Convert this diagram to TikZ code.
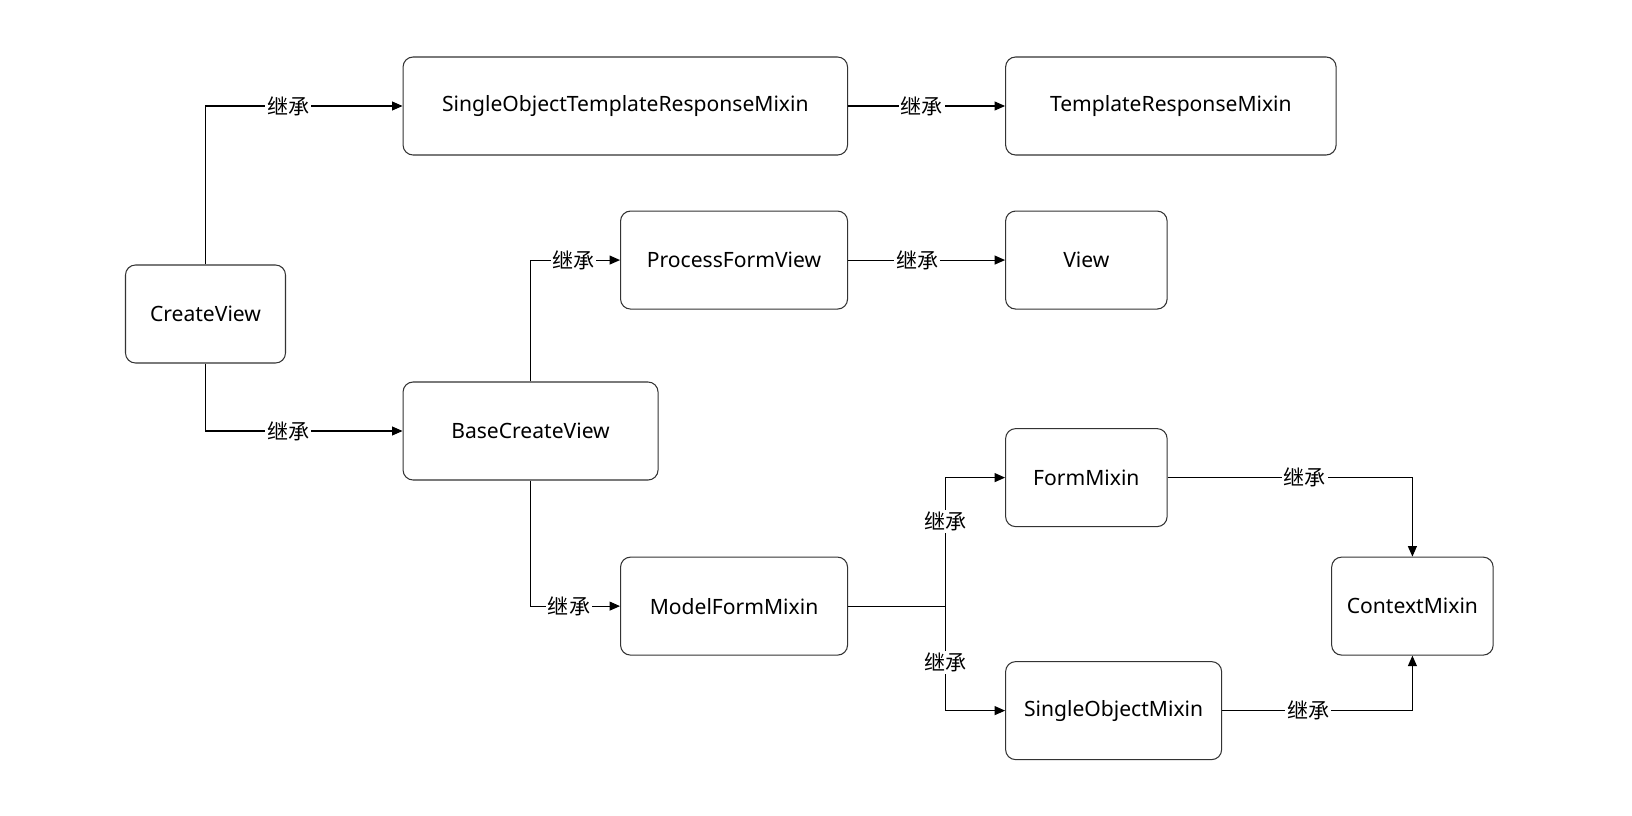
\documentclass[tikz,border=0pt]{standalone}
\usepackage{fontspec}
\setmainfont{Noto Sans}
\newfontfamily\cjk{Noto Sans CJK SC}
\usetikzlibrary{arrows.meta, positioning}

\begin{document}
\begin{tikzpicture}[semithick, >={Triangle[length=2.1mm,width=1.8mm]},
        box/.style={draw=black!80, rectangle, rounded corners=0.2cm, minimum height=1.96cm, font=\fontsize{12pt}{14pt}\selectfont},
        lbl/.style={fill=white, inner sep=1pt, font=\cjk\fontsize{12pt}{14pt}\selectfont}]
        % Frame
        \useasboundingbox (-4.11,-10.02) rectangle (28.53,6.28);

        % CreateView and its parents
        \node (create) [box, minimum width=3.2cm] at (0,0) {CreateView};
        \node (sotrm) [box, minimum width=8.89cm, right=2.33cm of create, yshift=4.16cm] {SingleObjectTemplateResponseMixin};
        \node (trm) [box, minimum width=6.61cm, right=3.14cm of sotrm] {TemplateResponseMixin};
        \node (base) [box, minimum width=5.1cm, right=2.33cm of create, yshift=-2.34cm] {BaseCreateView};

        % BaseCreateView parents
        \node (pfv) [box, minimum width=4.54cm, below=1.1cm of sotrm.south east, anchor=north east] {ProcessFormView};
        \node (view) [box, minimum width=3.23cm, right=3.14cm of pfv] {View};
        \node (mfm) [box, minimum width=4.54cm, below=4.94cm of pfv] {ModelFormMixin};

        % Mixins
        \node (form) [box, minimum width=3.23cm, right=3.14cm of mfm, yshift=2.57cm] {FormMixin};
        \node (som) [box, minimum width=4.32cm, right=3.14cm of mfm, yshift=-2.09cm] {SingleObjectMixin};
        \node (context) [box, minimum width=3.23cm, right=3.27cm of form, yshift=-2.57cm] {ContextMixin};
        \coordinate [right=1.94cm of mfm] (split);

        % Arrows
        \draw[->] (create.north) |- (sotrm.west) node[lbl, pos=0.71] {继承};
        \draw[->] (create.south) |- (base.west) node[lbl, pos=0.71] {继承};
        \draw[->] (sotrm) -- (trm) node[lbl, pos=0.47] {继承};
        \draw[->] (base.north) |- (pfv.west) node[lbl, pos=0.74] {继承};
        \draw[->] (base.south) |- (mfm.west) node[lbl, pos=0.715] {继承};
        \draw[->] (pfv) -- (view) node[lbl, pos=0.44] {继承};
        \draw (mfm) -- (split);
        \draw[->] (split) |- (form.west) node[lbl, pos=0.33] {继承};
        \draw[->] (split) |- (som.west) node[lbl, pos=0.27] {继承};
        \draw[->] (form.east) -| (context.north) node[lbl, pos=0.28] {继承};
        \draw[->] (som.east) -| (context.south) node[lbl, pos=0.226] {继承};
    \end{tikzpicture}
\end{document}
